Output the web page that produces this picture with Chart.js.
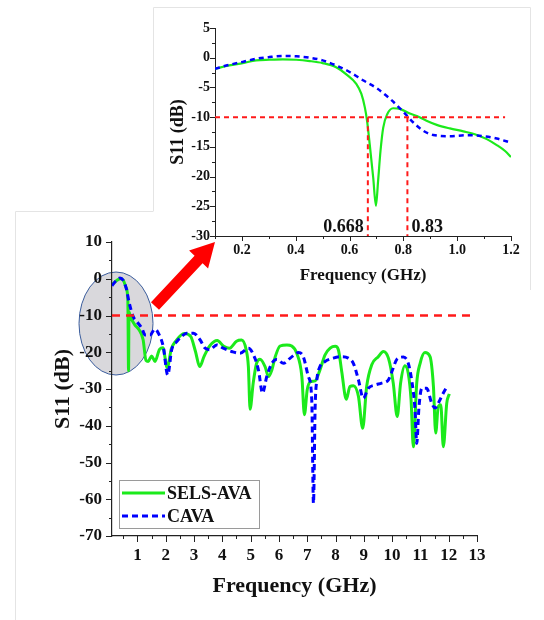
<!DOCTYPE html>
<html>
<head>
<meta charset="utf-8">
<script src="https://cdn.jsdelivr.net/npm/chart.js@4.4.1/dist/chart.umd.min.js"></script>
<style>
  html, body { margin: 0; padding: 0; background: #fff; }
  #wrap { position: relative; width: 544px; height: 620px; overflow: hidden; }
  #mainC { position: absolute; left: 0; top: 0; }
  #insetC { position: absolute; left: 0; top: 0; }
</style>
</head>
<body>
<div id="wrap">
  <canvas id="mainC" width="544" height="620"></canvas>
  <canvas id="insetC" width="544" height="300"></canvas>
</div>
<script>
// ---------- DATA ----------
const seriesNames = ['SELS-AVA', 'CAVA'];

// Main chart (0.1 - 13 GHz)
const selsFreq = [0.1,0.2,0.3,0.4,0.5,0.6,0.66,0.685,0.70,0.75,0.9,1.05,1.2,1.3,1.38,1.5,1.62,1.78,1.9,2.05,2.2,2.35,2.65,2.88,3.05,3.2,3.35,3.56,3.82,4.05,4.25,4.5,4.68,4.84,4.92,4.98,5.09,5.21,5.33,5.51,5.63,5.75,5.87,6.04,6.28,6.45,6.63,6.81,6.9,7.0,7.12,7.28,7.45,7.63,7.81,7.99,8.1,8.22,8.38,8.51,8.63,8.81,8.96,9.1,9.28,9.51,9.69,9.87,10.04,10.18,10.3,10.45,10.57,10.67,10.75,10.87,10.99,11.16,11.34,11.46,11.54,11.63,11.72,11.81,11.93,12.02];
const selsS11  = [-1.6,-0.9,-0.3,0,-0.4,-2.5,-6,-25,-9,-10.3,-12.5,-13.8,-16.6,-22.2,-22.5,-21,-22.5,-19.2,-18.8,-24.2,-19,-17,-14.9,-15.7,-19.8,-23.9,-21.2,-18.2,-16.8,-18.4,-18.9,-17,-16.7,-19.3,-23.9,-35.5,-28.4,-23,-21.9,-23.9,-26.6,-24.8,-21.2,-18.3,-18,-18.3,-20.3,-26.6,-37,-30.2,-28,-27.8,-24.8,-20.7,-18.9,-18.4,-19.3,-25.3,-32.8,-29.3,-29.1,-32,-40.7,-29.3,-23.4,-21.2,-19.8,-21.6,-28.4,-37.5,-28.4,-23.7,-25.7,-33,-45.7,-28.4,-23,-20.1,-21.2,-29.3,-42,-34.8,-34.3,-45.7,-33.9,-31.3];

const cavaFreq = [0.1,0.25,0.38,0.5,0.6,0.71,0.85,0.97,1.15,1.27,1.44,1.62,1.77,1.91,2.07,2.21,2.39,2.56,2.74,2.98,3.21,3.39,3.56,3.8,4.03,4.33,4.62,4.92,5.15,5.28,5.42,5.57,5.75,5.92,6.16,6.4,6.69,6.86,7.04,7.16,7.22,7.28,7.34,7.45,7.63,7.92,8.22,8.45,8.63,8.81,8.98,9.16,9.4,9.63,9.87,9.99,10.17,10.4,10.57,10.69,10.81,10.87,10.95,11.05,11.22,11.4,11.52,11.63,11.81,11.95];
const cavaS11  = [-1.9,-0.5,0.2,-0.5,-2.5,-6.6,-10.3,-11.6,-13.4,-15.3,-15.3,-13.7,-15.3,-18.4,-26.2,-19.3,-17.1,-15.7,-14.8,-14.8,-16.6,-18.9,-19.3,-18,-18.9,-19.8,-20.3,-18.9,-21.6,-25,-31.1,-26.6,-23,-22,-23,-21.6,-20.1,-21.2,-26.6,-33,-61.1,-34.8,-27.5,-23.9,-22.5,-21.6,-21.2,-21.6,-23,-27.5,-32.5,-29.8,-28.9,-28.4,-27.5,-25.3,-21.9,-21.3,-23,-27.5,-35.7,-44.8,-34.8,-29.8,-29.8,-33.9,-35.2,-33.9,-31.1,-29.2];

// Inset (0.1 - 1.2 GHz)
const insetSelsFreq = [0.1,0.153,0.203,0.253,0.302,0.352,0.402,0.452,0.50,0.55,0.588,0.625,0.644,0.657,0.665,0.675,0.688,0.698,0.706,0.715,0.725,0.74,0.762,0.787,0.824,0.85,0.886,0.924,0.973,1.023,1.073,1.11,1.147,1.178,1.2];
const insetSelsS11  = [-1.86,-1.3,-0.9,-0.45,-0.34,-0.28,-0.34,-0.56,-0.9,-1.6,-2.8,-4.4,-6.1,-8.4,-10.6,-14.6,-20.2,-24.9,-20.8,-15.7,-11.8,-9.5,-8.5,-8.6,-9.4,-9.8,-10.6,-11.3,-11.9,-12.4,-13.0,-13.7,-14.7,-15.7,-16.7];
const insetCavaFreq = [0.1,0.153,0.203,0.253,0.302,0.352,0.402,0.452,0.50,0.55,0.60,0.65,0.70,0.75,0.80,0.837,0.874,0.911,0.973,1.035,1.098,1.147,1.2];
const insetCavaS11  = [-1.86,-1.2,-0.7,-0.17,0.11,0.28,0.23,0,-0.45,-1.3,-2.4,-3.8,-5.1,-6.9,-9.1,-10.9,-12.3,-13.0,-13.2,-13.05,-13.2,-13.6,-14.3];

// Reference lines / markers
const thresholdDB = -10;
const mainThresholdFreq = [0.1, 12.87];
const insetThresholdFreq = [0.1, 1.178];
const bandEdges = [0.668, 0.815];
const bandEdgeLabels = ['0.668', '0.83'];

// Tick values
const mainXMajor = [1,2,3,4,5,6,7,8,9,10,11,12,13];
const mainXMinor = [0.5,1.5,2.5,3.5,4.5,5.5,6.5,7.5,8.5,9.5,10.5,11.5,12.5];
const mainYMajor = [-70,-60,-50,-40,-30,-20,-10,0,10];
const mainYMinor = [-65,-55,-45,-35,-25,-15,-5,5];
const insetXMajor = [0.2,0.4,0.6,0.8,1.0,1.2];
const insetXMinor = [0.1,0.3,0.5,0.7,0.9,1.1];
const insetYMajor = [-30,-25,-20,-15,-10,-5,0,5];
const insetYMinor = [-27.5,-22.5,-17.5,-12.5,-7.5,-2.5,2.5];

// ---------- HELPERS ----------
const zip = (xs, ys) => xs.map((x, i) => ({x, y: ys[i]}));
const GREEN = '#1bea1b', BLUE = '#0000ff', RED = '#ff1a1a';
const FONT = '"Liberation Serif", "Times New Roman", serif';

function makeTickMarks(id, o) {
  return {
    id: id,
    afterDraw(chart) {
      const ctx = chart.ctx, a = chart.chartArea;
      const xs = chart.scales.x, ys = chart.scales.y;
      ctx.save();
      ctx.strokeStyle = '#222';
      ctx.lineWidth = 1;
      ctx.setLineDash([]);
      ctx.beginPath();
      const vx = (v, len) => { const p = Math.round(xs.getPixelForValue(v)) + 0.5; ctx.moveTo(p, a.bottom); ctx.lineTo(p, a.bottom + len); };
      const vy = (v, len) => { const p = Math.round(ys.getPixelForValue(v)) + 0.5; ctx.moveTo(a.left, p); ctx.lineTo(a.left - len, p); };
      o.xMajor.forEach(v => vx(v, o.majorLen));
      o.xMinor.forEach(v => vx(v, o.minorLen));
      o.yMajor.forEach(v => vy(v, o.majorLen));
      o.yMinor.forEach(v => vy(v, o.minorLen));
      ctx.stroke();
      ctx.restore();
    }
  };
}

function fixedArea(area, canvasW, canvasH) {
  return {
    layout: { padding: { left: 0, top: area.top, right: canvasW - area.right, bottom: 0 } },
    yFit: (s) => { s.width = area.left; },
    xFit: (s) => { s.height = canvasH - area.bottom; }
  };
}

// ---------- MAIN CHART ----------
const mainArea = { left: 112, right: 477, top: 242, bottom: 536 };
const mf = fixedArea(mainArea, 544, 620);

const mainDecor = {
  id: 'mainDecor',
  beforeDraw(chart) {
    const ctx = chart.ctx;
    ctx.save();
    ctx.strokeStyle = '#e4e4e4';
    ctx.lineWidth = 1;
    ctx.beginPath();
    ctx.moveTo(15.5, 620); ctx.lineTo(15.5, 211.5); ctx.lineTo(153.5, 211.5);
    ctx.stroke();
    // zoom ellipse
    ctx.beginPath();
    ctx.ellipse(116, 323.5, 37, 51.5, 0, 0, Math.PI * 2);
    ctx.fillStyle = '#d9d8dc';
    ctx.fill();
    ctx.strokeStyle = '#3a5c9c';
    ctx.lineWidth = 1;
    ctx.stroke();
    ctx.restore();
  },
  afterDraw(chart) {
    const ctx = chart.ctx;
    ctx.save();
    // legend
    const bx = 119.5, by = 480.5, bw = 140, bh = 48;
    ctx.fillStyle = '#fff';
    ctx.fillRect(bx, by, bw, bh);
    ctx.strokeStyle = '#9a9a9a';
    ctx.lineWidth = 1;
    ctx.strokeRect(bx, by, bw, bh);
    seriesNames.forEach((name, i) => {
      const d = chart.data.datasets.find(ds => ds.label === name);
      const y = 493 + i * 23;
      ctx.beginPath();
      ctx.strokeStyle = d.borderColor;
      ctx.lineWidth = 3;
      ctx.setLineDash(d.borderDash || []);
      ctx.moveTo(122, y); ctx.lineTo(165, y);
      ctx.stroke();
      ctx.setLineDash([]);
      ctx.fillStyle = '#111';
      ctx.font = 'bold 18px ' + FONT;
      ctx.textBaseline = 'middle';
      ctx.textAlign = 'left';
      ctx.fillText(d.label, 167, y + 1);
    });
    // red arrow
    const x0 = 155, y0 = 306, x1 = 215, y1 = 242;
    const ang = Math.atan2(y1 - y0, x1 - x0);
    const L = Math.hypot(x1 - x0, y1 - y0);
    const hl = 24, hw = 13, sw = 5.5;
    ctx.translate(x0, y0);
    ctx.rotate(ang);
    ctx.beginPath();
    ctx.moveTo(0, -sw); ctx.lineTo(L - hl, -sw); ctx.lineTo(L - hl, -hw);
    ctx.lineTo(L, 0);
    ctx.lineTo(L - hl, hw); ctx.lineTo(L - hl, sw); ctx.lineTo(0, sw);
    ctx.closePath();
    ctx.fillStyle = '#ff0000';
    ctx.fill();
    ctx.restore();
  }
};

new Chart(document.getElementById('mainC'), {
  type: 'line',
  data: {
    datasets: [
      { label: 'threshold', data: zip(mainThresholdFreq, [thresholdDB, thresholdDB]), borderColor: RED, borderWidth: 2.5, borderDash: [8, 6], pointRadius: 0, tension: 0 },
      { label: seriesNames[1], data: zip(cavaFreq, cavaS11), borderColor: BLUE, borderWidth: 3, borderDash: [6, 4], pointRadius: 0, cubicInterpolationMode: 'monotone' },
      { label: seriesNames[0], data: zip(selsFreq, selsS11), borderColor: GREEN, borderWidth: 3, pointRadius: 0, cubicInterpolationMode: 'monotone' }
    ]
  },
  options: {
    responsive: false, animation: false, devicePixelRatio: 1,
    layout: mf.layout,
    plugins: { legend: { display: false }, tooltip: { enabled: false } },
    scales: {
      x: {
        type: 'linear', min: 0.1, max: 13,
        afterFit: mf.xFit,
        afterBuildTicks: (s) => { s.ticks = mainXMajor.map(v => ({ value: v })); },
        grid: { display: false, drawTicks: false },
        border: { display: true, color: '#222', width: 1.2 },
        ticks: { color: '#111', padding: 9, maxRotation: 0, autoSkip: false, font: { family: FONT, size: 17, weight: 'bold' }, callback: (v) => String(v) },
        title: { display: true, text: 'Frequency (GHz)', color: '#111', font: { family: FONT, size: 22, weight: 'bold' }, padding: { top: 0, bottom: 20 } }
      },
      y: {
        type: 'linear', min: -70, max: 10,
        afterFit: mf.yFit,
        afterBuildTicks: (s) => { s.ticks = mainYMajor.map(v => ({ value: v })); },
        grid: { display: false, drawTicks: false },
        border: { display: true, color: '#222', width: 1.2 },
        ticks: { color: '#111', padding: 10, autoSkip: false, font: { family: FONT, size: 17, weight: 'bold' }, callback: (v) => String(v) },
        title: { display: true, text: 'S11 (dB)', color: '#111', font: { family: FONT, size: 22, weight: 'bold' }, padding: { top: 50, bottom: 0 } }
      }
    }
  },
  plugins: [makeTickMarks('mainTicks', { xMajor: mainXMajor, xMinor: mainXMinor, yMajor: mainYMajor, yMinor: mainYMinor, majorLen: 6, minorLen: 3 }), mainDecor]
});

// ---------- INSET CHART ----------
const insetArea = { left: 215, right: 511, top: 28, bottom: 236 };
const inf = fixedArea(insetArea, 544, 300);

const insetDecor = {
  id: 'insetDecor',
  beforeDraw(chart) {
    const ctx = chart.ctx;
    ctx.save();
    ctx.fillStyle = '#fff';
    ctx.fillRect(154, 8, 376, 203);
    ctx.strokeStyle = '#e4e4e4';
    ctx.lineWidth = 1;
    ctx.beginPath();
    ctx.moveTo(153.5, 211); ctx.lineTo(153.5, 7.5); ctx.lineTo(530.5, 7.5); ctx.lineTo(530.5, 290);
    ctx.stroke();
    ctx.restore();
  },
  afterDatasetsDraw(chart) {
    const ctx = chart.ctx, xs = chart.scales.x, ys = chart.scales.y;
    ctx.save();
    ctx.fillStyle = '#111';
    ctx.font = 'bold 18px ' + FONT;
    ctx.textBaseline = 'middle';
    const yy = ys.getPixelForValue(-28.5);
    ctx.textAlign = 'right';
    ctx.fillText(bandEdgeLabels[0], xs.getPixelForValue(bandEdges[0]) - 4, yy);
    ctx.textAlign = 'left';
    ctx.fillText(bandEdgeLabels[1], xs.getPixelForValue(bandEdges[1]) + 4, yy);
    ctx.restore();
  }
};

const redInset = { borderColor: RED, borderWidth: 2, borderDash: [5, 4], pointRadius: 0, tension: 0 };
new Chart(document.getElementById('insetC'), {
  type: 'line',
  data: {
    datasets: [
      Object.assign({ label: 'threshold', data: zip(insetThresholdFreq, [thresholdDB, thresholdDB]) }, redInset),
      Object.assign({ label: 'edge1', data: zip([bandEdges[0], bandEdges[0]], [thresholdDB, -30]) }, redInset),
      Object.assign({ label: 'edge2', data: zip([bandEdges[1], bandEdges[1]], [thresholdDB, -30]) }, redInset),
      { label: seriesNames[1], data: zip(insetCavaFreq, insetCavaS11), borderColor: BLUE, borderWidth: 2.5, borderDash: [5, 4], pointRadius: 0, cubicInterpolationMode: 'monotone' },
      { label: seriesNames[0], data: zip(insetSelsFreq, insetSelsS11), borderColor: GREEN, borderWidth: 2.2, pointRadius: 0, cubicInterpolationMode: 'monotone' }
    ]
  },
  options: {
    responsive: false, animation: false, devicePixelRatio: 1,
    layout: inf.layout,
    plugins: { legend: { display: false }, tooltip: { enabled: false } },
    scales: {
      x: {
        type: 'linear', min: 0.1, max: 1.2,
        afterFit: inf.xFit,
        afterBuildTicks: (s) => { s.ticks = insetXMajor.map(v => ({ value: v })); },
        grid: { display: false, drawTicks: false },
        border: { display: true, color: '#222', width: 1 },
        ticks: { color: '#111', padding: 6, maxRotation: 0, autoSkip: false, font: { family: FONT, size: 14, weight: 'bold' }, callback: (v) => Number(v).toFixed(1) },
        title: { display: true, text: 'Frequency (GHz)', color: '#111', font: { family: FONT, size: 17, weight: 'bold' }, padding: { top: 0, bottom: 14 } }
      },
      y: {
        type: 'linear', min: -30, max: 5,
        afterFit: inf.yFit,
        afterBuildTicks: (s) => { s.ticks = insetYMajor.map(v => ({ value: v })); },
        grid: { display: false, drawTicks: false },
        border: { display: true, color: '#222', width: 1 },
        ticks: { color: '#111', padding: 5, autoSkip: false, font: { family: FONT, size: 14, weight: 'bold' }, callback: (v) => String(v) },
        title: { display: true, text: 'S11 (dB)', color: '#111', font: { family: FONT, size: 18, weight: 'bold' }, padding: { top: 168, bottom: 0 } }
      }
    }
  },
  plugins: [makeTickMarks('insetTicks', { xMajor: insetXMajor, xMinor: insetXMinor, yMajor: insetYMajor, yMinor: insetYMinor, majorLen: 5, minorLen: 3 }), insetDecor]
});
</script>
</body>
</html>
